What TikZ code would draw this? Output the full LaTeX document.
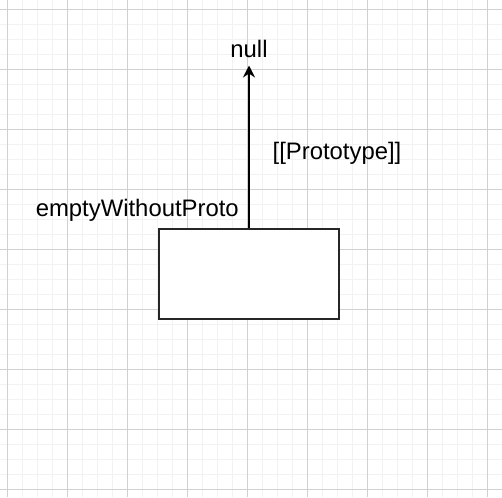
\documentclass[tikz,border=0pt]{standalone}
\usepackage{fontspec}
\setmainfont{Liberation Sans}
\usetikzlibrary{positioning,arrows.meta}

\begin{document}
\begin{tikzpicture}[x=0.75pt,y=-0.75pt,
  minorgrid/.style={draw=black!5,line width=0.75pt},
  majorgrid/.style={draw=black!18,line width=0.75pt},
  objbox/.style={draw=black!85,fill=white,line width=1.5pt,
    minimum width=135pt,minimum height=67.5pt,inner sep=0pt},
  txt/.style={font=\fontsize{17.9}{20}\selectfont,inner sep=0pt},
  protolink/.style={line width=1.5pt,-{Stealth[length=9pt,width=9pt,inset=3pt]}}]
  \useasboundingbox (0,0) rectangle (502,497);
  \foreach \x in {7,22,...,502} \draw[minorgrid] (\x,0) -- (\x,497);
  \foreach \y in {9,24,...,497} \draw[minorgrid] (0,\y) -- (502,\y);
  \foreach \x in {7,67,...,502} \draw[majorgrid] (\x,0) -- (\x,497);
  \foreach \y in {9,69,...,497} \draw[majorgrid] (0,\y) -- (502,\y);

  \node[objbox] (emptyObj) at (249,274) {};
  \node[txt,anchor=base] (nullVal) at (249,57) {null};
  \node[txt,anchor=base east] (emptyLbl)
    at ([xshift=-7.5pt,yshift=9pt]emptyObj.north) {emptyWithoutProto};
  \draw[protolink,shorten >=6pt] (emptyObj.north) -- (nullVal.south)
    node[txt,pos=0.44,right=17pt] (protoLbl) {[[Prototype]]};
\end{tikzpicture}
\end{document}
